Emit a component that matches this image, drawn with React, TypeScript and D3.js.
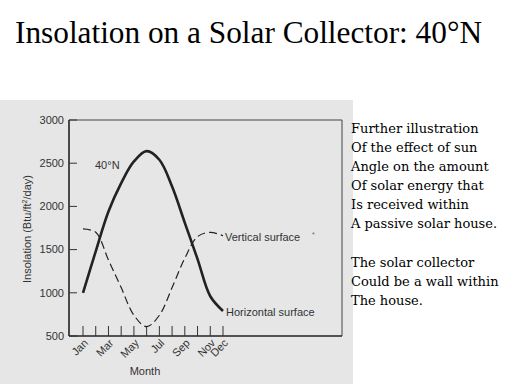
import React from "react";
import * as d3 from "d3";

const months = ["Jan","Feb","Mar","Apr","May","Jun","Jul","Aug","Sep","Oct","Nov","Dec"];
const labeledMonths = ["Jan","Mar","May","Jul","Sep","Nov","Dec"];
const horizontal = [1000, 1480, 1940, 2270, 2520, 2640, 2540, 2230, 1810, 1390, 960, 790];
const vertical = [1740, 1700, 1380, 1060, 740, 608, 740, 1060, 1400, 1650, 1700, 1660];
const yTicks = [500, 1000, 1500, 2000, 2500, 3000];
const sideText1 = ["Further illustration","Of the effect of sun","Angle on the amount","Of solar energy that","Is received within","A passive solar house."];
const sideText2 = ["The solar collector","Could be a wall within","The house."];

export default function App() {
  const x = d3.scaleLinear().domain([0, 11]).range([83, 223]);
  const y = d3.scaleLinear().domain([500, 3000]).range([336, 120]);
  const line = d3.line<number>().x((_, i) => x(i)).y(d => y(d)).curve(d3.curveCatmullRom.alpha(0.5));
  const sans = "'Liberation Sans', Arial, sans-serif";
  const textCol = "#333";
  return (
    <svg width={512} height={384} style={{ position: "absolute", left: 0, top: 0, background: "#fff" }}>
      <text x={15} y={43} fontFamily="'Liberation Serif', 'Times New Roman', serif" fontSize={31} fill="#000" textLength={467} lengthAdjust="spacingAndGlyphs">Insolation on a Solar Collector: 40°N</text>
      <rect x={0} y={100} width={353} height={284} fill="#e6e6e6" />
      {/* plot frame */}
      <line x1={69} x2={342} y1={120} y2={120} stroke="#444" strokeWidth={1} />
      <line x1={342} x2={342} y1={120} y2={336} stroke="#444" strokeWidth={1} />
      <line x1={69} x2={69} y1={120} y2={336} stroke="#222" strokeWidth={1.6} />
      <line x1={69} x2={342} y1={336} y2={336} stroke="#222" strokeWidth={1.6} />
      {/* y ticks */}
      {yTicks.map(t => (
        <g key={t}>
          <line x1={69} x2={77} y1={y(t)} y2={y(t)} stroke="#333" strokeWidth={1} />
          <text x={64} y={y(t)} dy="0.35em" textAnchor="end" fontFamily={sans} fontSize={11} fill={textCol}>{t}</text>
        </g>
      ))}
      {/* x ticks */}
      {months.map((m, i) => (
        <line key={m} x1={x(i)} x2={x(i)} y1={326} y2={336} stroke="#333" strokeWidth={1} />
      ))}
      {labeledMonths.map(m => {
        const i = months.indexOf(m);
        return (
          <text key={m} transform={`translate(${x(i) + 3},${341}) rotate(-45)`} textAnchor="end" dy="0.35em" fontFamily={sans} fontSize={11} fill={textCol}>{m}</text>
        );
      })}
      <text x={145} y={375} textAnchor="middle" fontFamily={sans} fontSize={11} fill={textCol}>Month</text>
      <text transform="translate(31,229) rotate(-90)" textAnchor="middle" fontFamily={sans} fontSize={11} fill={textCol}>
        Insolation (Btu/ft<tspan dy={-4} fontSize={7}>2</tspan><tspan dy={4}>/day)</tspan>
      </text>
      {/* series */}
      <path d={line(horizontal) || ""} fill="none" stroke="#222" strokeWidth={2.6} />
      <path d={line(vertical) || ""} fill="none" stroke="#222" strokeWidth={1.2} strokeDasharray="8,4" />
      <text x={95} y={169} fontFamily={sans} fontSize={11} fill={textCol}>40°N</text>
      <text x={225} y={241} fontFamily={sans} fontSize={11} fill={textCol}>Vertical surface</text>
      <text x={226} y={316} fontFamily={sans} fontSize={11} fill={textCol}>Horizontal surface</text>
      <text x={312} y={237} fontFamily={sans} fontSize={7} fill="#666">*</text>
      {/* side text */}
      {sideText1.map((s, i) => (
        <text key={s} x={351} y={133 + i * 19} fontFamily="'DejaVu Serif', serif" fontSize={13} fill="#000">{s}</text>
      ))}
      {sideText2.map((s, i) => (
        <text key={s} x={351} y={267 + i * 19} fontFamily="'DejaVu Serif', serif" fontSize={13} fill="#000">{s}</text>
      ))}
    </svg>
  );
}
